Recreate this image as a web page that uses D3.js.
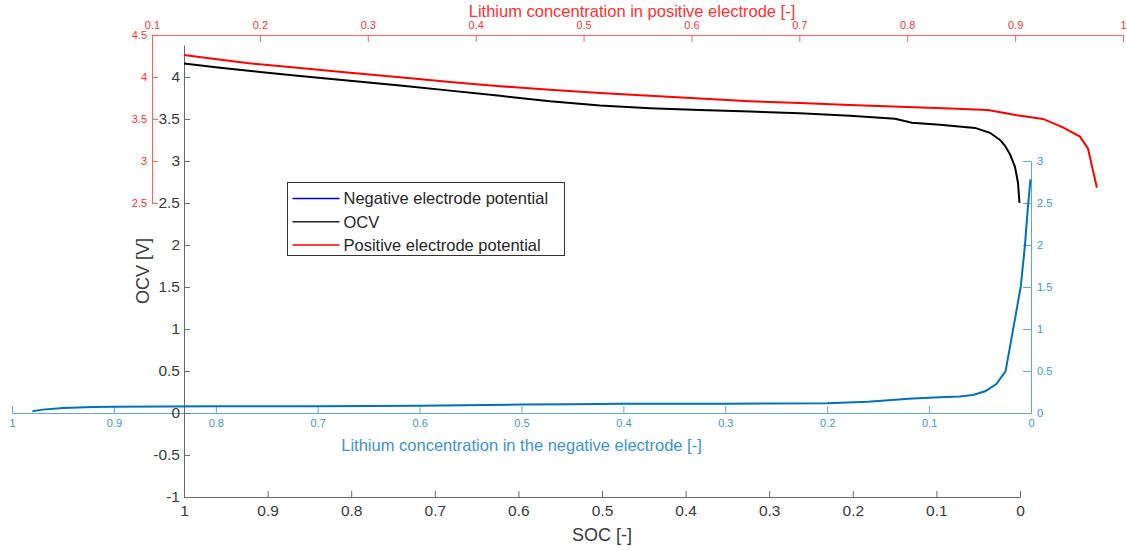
<!DOCTYPE html>
<html>
<head>
<meta charset="utf-8">
<script src="https://cdn.jsdelivr.net/npm/d3@7"></script>
<style>
    body { margin: 0; background: #fff; }
    svg { display: block; font-family: "Liberation Sans", Arial, sans-serif; }
</style>
</head>
<body>
<div id="chart"></div>
<script>
// OCV vs SOC
const socValues = [1.0, 0.9569, 0.9091, 0.8612, 0.8014, 0.7416, 0.6818, 0.622, 0.5622, 0.5024, 0.4426, 0.3828, 0.323, 0.2632, 0.2033, 0.1495, 0.1292, 0.0957, 0.0538, 0.0359, 0.0239, 0.0179, 0.012, 0.006, 0.0024, 0.0006];
const ocvValues = [4.16, 4.11, 4.06, 4.012, 3.955, 3.897, 3.837, 3.775, 3.71, 3.66, 3.628, 3.607, 3.589, 3.568, 3.538, 3.503, 3.455, 3.43, 3.393, 3.335, 3.25, 3.18, 3.08, 2.93, 2.74, 2.5];

// positive electrode potential vs lithium concentration (positive)
const posConc = [0.1297, 0.1565, 0.188, 0.2372, 0.2835, 0.3298, 0.3762, 0.4225, 0.4689, 0.5152, 0.5615, 0.6079, 0.6542, 0.7006, 0.7469, 0.7932, 0.8396, 0.8748, 0.9017, 0.9258, 0.9443, 0.9601, 0.9675, 0.9758];
const posPotential = [4.26, 4.215, 4.165, 4.107, 4.05, 3.995, 3.94, 3.89, 3.848, 3.81, 3.775, 3.742, 3.71, 3.69, 3.667, 3.645, 3.625, 3.607, 3.545, 3.50, 3.40, 3.29, 3.15, 2.68];

// negative electrode potential vs lithium concentration (negative)
const negConc = [0.98, 0.97, 0.95, 0.92, 0.9, 0.8, 0.7, 0.6, 0.5, 0.45, 0.4, 0.3, 0.2, 0.16, 0.13, 0.12, 0.1, 0.09, 0.07, 0.057, 0.045, 0.034, 0.025, 0.016, 0.01, 0.006, 0.003, 0.0005];
const negPotential = [0.02, 0.04, 0.06, 0.07, 0.075, 0.08, 0.08, 0.085, 0.1, 0.105, 0.11, 0.11, 0.115, 0.135, 0.16, 0.17, 0.18, 0.187, 0.195, 0.214, 0.258, 0.345, 0.496, 1.10, 1.51, 1.99, 2.46, 2.78];

// tick labels
const socTicks = [1, 0.9, 0.8, 0.7, 0.6, 0.5, 0.4, 0.3, 0.2, 0.1, 0];
const ocvTicks = [-1, -0.5, 0, 0.5, 1, 1.5, 2, 2.5, 3, 3.5, 4];
const posConcTicks = [0.1, 0.2, 0.3, 0.4, 0.5, 0.6, 0.7, 0.8, 0.9, 1];
const posVoltTicks = [2.5, 3, 3.5, 4, 4.5];
const negConcTicks = [1, 0.9, 0.8, 0.7, 0.6, 0.5, 0.4, 0.3, 0.2, 0.1, 0];
const negVoltTicks = [0, 0.5, 1, 1.5, 2, 2.5, 3];

const legendLabels = ["Negative electrode potential", "OCV", "Positive electrode potential"];
const legendColors = ["#0000ff", "#262626", "#ff0000"];

const ctx = {
    W: 1127,
    H: 550,
    GRAY_LINE: "#6a6a6a",
    GRAY_TEXT: "#3a3a3a",
    RED_LINE: "#ff5c5c",
    RED_TEXT: "#ff3030",
    BLUE_LINE: "#5fa6dc",
    BLUE_TEXT: "#3d93d3",
};

const fmt = d => String(d);

function createViz() {
    const svg = d3.select("#chart")
        .append("svg")
        .attr("width", ctx.W)
        .attr("height", ctx.H);

    svg.append("rect").attr("width", ctx.W).attr("height", ctx.H).attr("fill", "#fff");

    // main axes (SOC / OCV)
    const socX = d3.scaleLinear().domain([1, 0]).range([184, 1020]);
    const ocvY = d3.scaleLinear().domain([-1, 4.38]).range([497, 45]);

    // positive electrode axes share the voltage scale
    const posX = d3.scaleLinear().domain([0.1, 1]).range([152, 1123]);
    const posY = d3.scaleLinear().domain([2.5, 4.5]).range([ocvY(2.5), ocvY(4.5)]);

    // negative electrode axes
    const negX = d3.scaleLinear().domain([1, 0]).range([12, 1031]);
    const negY = d3.scaleLinear().domain([0, 3]).range([ocvY(0), ocvY(3)]);

    function styleAxis(g, lineColor, textColor, fontSize) {
        g.selectAll("path, line").attr("stroke", lineColor);
        g.selectAll("text")
            .attr("fill", textColor)
            .style("font-size", fontSize + "px")
            .style("font-family", '"Liberation Sans", Arial, sans-serif');
    }

    // negative electrode axes
    const negBottom = svg.append("g")
        .attr("transform", `translate(0,${negY(0)})`)
        .call(d3.axisBottom(negX).tickValues(negConcTicks).tickFormat(fmt)
            .tickSize(-7).tickSizeOuter(0).tickPadding(6));
    styleAxis(negBottom, ctx.BLUE_LINE, ctx.BLUE_TEXT, 11);

    const negRight = svg.append("g")
        .attr("transform", `translate(${negX(0)},0)`)
        .call(d3.axisRight(negY).tickValues(negVoltTicks).tickFormat(fmt)
            .tickSize(-8).tickSizeOuter(0).tickPadding(6));
    styleAxis(negRight, ctx.BLUE_LINE, ctx.BLUE_TEXT, 11);

    // positive electrode axes
    const posTop = svg.append("g")
        .attr("transform", `translate(0,${posY(4.5)})`)
        .call(d3.axisTop(posX).tickValues(posConcTicks).tickFormat(fmt)
            .tickSize(-7).tickSizeOuter(0).tickPadding(6));
    styleAxis(posTop, ctx.RED_LINE, ctx.RED_TEXT, 11);

    const posLeft = svg.append("g")
        .attr("transform", `translate(${posX(0.1)},0)`)
        .call(d3.axisLeft(posY).tickValues(posVoltTicks).tickFormat(fmt)
            .tickSize(-6).tickSizeOuter(0).tickPadding(5));
    styleAxis(posLeft, ctx.RED_LINE, ctx.RED_TEXT, 11);

    // main axes
    const mainBottom = svg.append("g")
        .attr("transform", `translate(0,${ocvY(-1)})`)
        .call(d3.axisBottom(socX).tickValues(socTicks).tickFormat(fmt)
            .tickSize(-6).tickSizeOuter(0).tickPadding(8));
    styleAxis(mainBottom, ctx.GRAY_LINE, ctx.GRAY_TEXT, 15.5);

    const mainLeft = svg.append("g")
        .attr("transform", `translate(${socX(1)},0)`)
        .call(d3.axisLeft(ocvY).tickValues(ocvTicks).tickFormat(fmt)
            .tickSize(-6).tickSizeOuter(0).tickPadding(4));
    styleAxis(mainLeft, ctx.GRAY_LINE, ctx.GRAY_TEXT, 15.5);

    // axis titles
    svg.append("text")
        .attr("x", 632).attr("y", 17)
        .attr("text-anchor", "middle")
        .attr("fill", ctx.RED_TEXT)
        .style("font-size", "16.5px")
        .text("Lithium concentration in positive electrode [-]");

    svg.append("text")
        .attr("x", 521.5).attr("y", 451)
        .attr("text-anchor", "middle")
        .attr("fill", ctx.BLUE_TEXT)
        .style("font-size", "16.5px")
        .text("Lithium concentration in the negative electrode [-]");

    svg.append("text")
        .attr("x", 602).attr("y", 541)
        .attr("text-anchor", "middle")
        .attr("fill", ctx.GRAY_TEXT)
        .style("font-size", "18px")
        .text("SOC [-]");

    svg.append("text")
        .attr("transform", "translate(149,271) rotate(-90)")
        .attr("text-anchor", "middle")
        .attr("fill", ctx.GRAY_TEXT)
        .style("font-size", "18px")
        .text("OCV [V]");

    // curves
    const negLine = d3.line().x((d, i) => negX(negConc[i])).y(d => negY(d));
    svg.append("path")
        .datum(negPotential)
        .attr("d", negLine)
        .attr("fill", "none")
        .attr("stroke", "#0072BD")
        .attr("stroke-width", 2);

    const posLine = d3.line().x((d, i) => posX(posConc[i])).y(d => posY(d));
    svg.append("path")
        .datum(posPotential)
        .attr("d", posLine)
        .attr("fill", "none")
        .attr("stroke", "#ff0000")
        .attr("stroke-width", 2);

    const ocvLine = d3.line().x((d, i) => socX(socValues[i])).y(d => ocvY(d));
    svg.append("path")
        .datum(ocvValues)
        .attr("d", ocvLine)
        .attr("fill", "none")
        .attr("stroke", "#000")
        .attr("stroke-width", 2);

    // legend
    const legend = svg.append("g").attr("transform", "translate(287.5,182.5)");
    legend.append("rect")
        .attr("width", 277).attr("height", 73)
        .attr("fill", "#fff")
        .attr("stroke", "#333")
        .attr("stroke-width", 1);

    legendLabels.forEach(function (label, i) {
        const y = 16 + i * 23.3;
        legend.append("line")
            .attr("x1", 5).attr("x2", 52)
            .attr("y1", y).attr("y2", y)
            .attr("stroke", legendColors[i])
            .attr("stroke-width", 1.5);
        legend.append("text")
            .attr("x", 56).attr("y", y)
            .attr("dy", "0.35em")
            .attr("fill", "#262626")
            .style("font-size", "16.5px")
            .text(label);
    });
}

createViz();
</script>
</body>
</html>
